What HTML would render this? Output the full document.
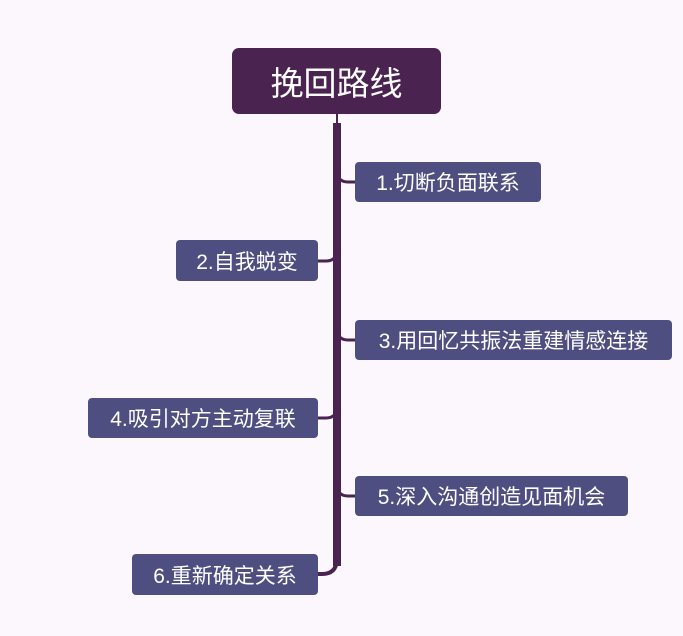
<!DOCTYPE html>
<html><head><meta charset="utf-8"><style>
body{margin:0;width:683px;height:636px;background:#fbf7fc;position:relative;overflow:hidden;font-family:"Liberation Sans","Noto Sans CJK SC",sans-serif;}
.b{position:absolute;background:#4f4e80;color:#fff;border-radius:4px;font-size:21px;display:flex;align-items:center;justify-content:center;height:40px;}
.r{position:absolute;left:232px;top:48px;width:209px;height:66px;background:#4a2350;border-radius:7px;color:#fff;font-size:33px;display:flex;align-items:center;justify-content:center;}
svg{position:absolute;left:0;top:0;}
</style></head><body>
<svg width="683" height="636">
<g fill="none" stroke="#4a2350">
<line x1="337" y1="114" x2="337" y2="124" stroke-width="2"/>
<line x1="337" y1="123" x2="337" y2="566" stroke-width="8"/>
<path d="M337 172 Q338 182 348 182 H356" stroke-width="3"/>
<path d="M337 251 Q336 261 326 261 H317" stroke-width="3"/>
<path d="M337 330 Q338 340 348 340 H356" stroke-width="3"/>
<path d="M337 408 Q336 418 326 418 H317" stroke-width="3"/>
<path d="M337 486 Q338 496 348 496 H356" stroke-width="3"/>
<path d="M337 560 Q336 574 322 574 H317" stroke-width="4"/>
</g></svg>
<div class="r">挽回路线</div>
<div class="b" style="left:355px;top:162px;width:186px">1.切断负面联系</div>
<div class="b" style="left:176px;top:240px;width:142px;height:41px">2.自我蜕变</div>
<div class="b" style="left:355px;top:320px;width:317px">3.用回忆共振法重建情感连接</div>
<div class="b" style="left:88px;top:398px;width:230px">4.吸引对方主动复联</div>
<div class="b" style="left:355px;top:476px;width:273px">5.深入沟通创造见面机会</div>
<div class="b" style="left:132px;top:554px;width:186px;height:41px">6.重新确定关系</div>
</body></html>
